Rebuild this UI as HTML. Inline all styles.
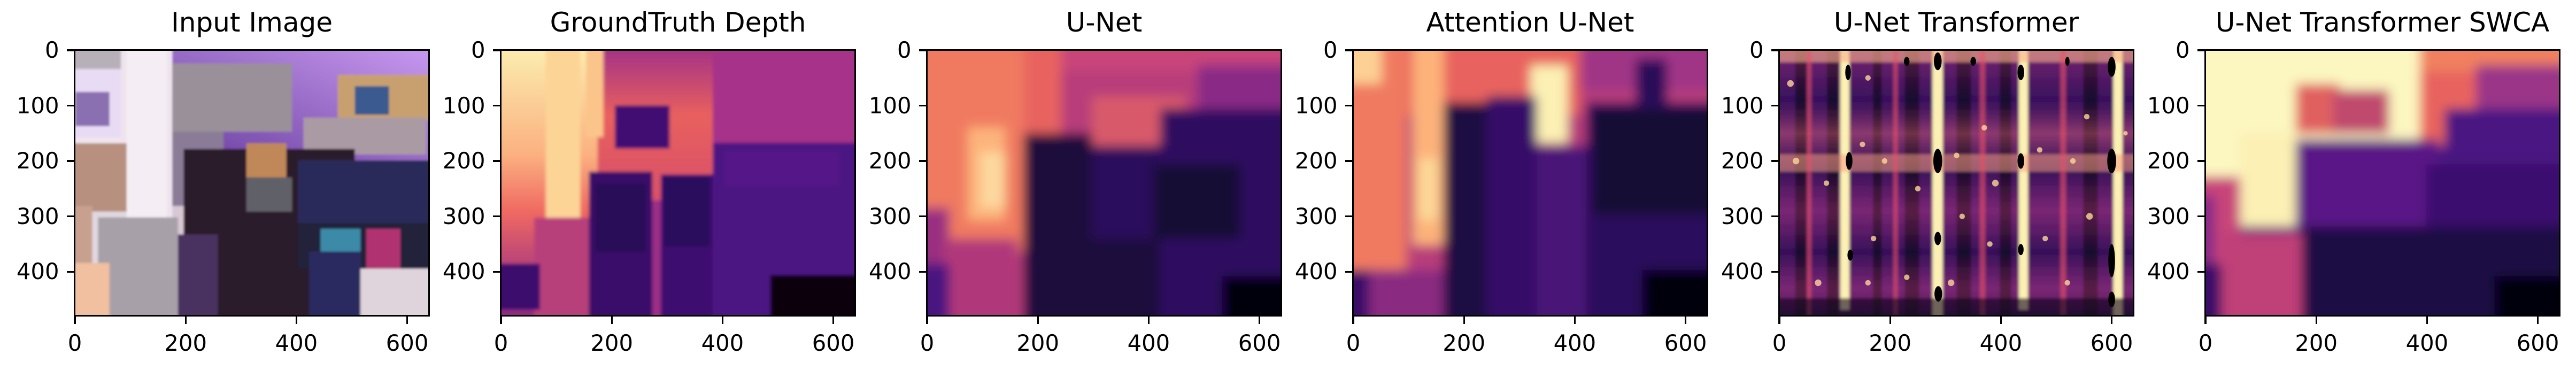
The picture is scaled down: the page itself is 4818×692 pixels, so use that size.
<!DOCTYPE html>
<html><head><meta charset="utf-8">
<style>
html,body{margin:0;padding:0;background:#fff;}
#fig{position:relative;width:4818px;height:692px;overflow:hidden;background:#fff;font-family:"DejaVu Sans","Liberation Sans",sans-serif;color:#000;}
.ax{position:absolute;top:93.5px;width:663px;height:497px;box-sizing:border-box;}
.ax svg.img{position:absolute;left:0;top:0;width:663px;height:497px;display:block;overflow:hidden;}
.frame{position:absolute;left:-1.6px;top:-1.6px;width:666.2px;height:500.2px;border:3.3px solid #000;box-sizing:border-box;}
.title{position:absolute;top:-82px;left:-200px;width:1063px;text-align:center;font-size:50px;line-height:60px;white-space:nowrap;}
.tx{position:absolute;width:3.3px;height:14.6px;background:#000;top:498px;margin-left:-1.65px;}
.ty{position:absolute;height:3.3px;width:14.6px;background:#000;left:-14.6px;margin-top:-1.65px;}
.lx{position:absolute;top:524px;width:160px;margin-left:-80px;text-align:center;font-size:41.7px;line-height:48px;}
.ly{position:absolute;right:692px;font-size:41.7px;line-height:48px;margin-top:-24px;text-align:right;white-space:nowrap;}
</style></head>
<body>
<div id="fig">
<div id="svgs" style="display:none">
<svg id="s0" viewBox="0 0 640 480" preserveAspectRatio="none">
<defs><linearGradient id="wall" x1="0" y1="1" x2="1" y2="0"><stop offset="0" stop-color="#6a3fa0"/><stop offset="1" stop-color="#c99af0"/></linearGradient>
<filter id="b1"><feGaussianBlur stdDeviation="2"/></filter></defs>
<g transform="translate(320 240) scale(1.03) translate(-320 -240)"><g filter="url(#b1)">
<rect width="640" height="480" fill="#d8c8d4"/>
<rect x="0" y="0" width="180" height="480" fill="#efe4ee"/>
<rect x="0" y="0" width="90" height="40" fill="#b8b0b8"/>
<rect x="0" y="40" width="90" height="120" fill="#e8dcf4"/>
<rect x="10" y="80" width="60" height="60" fill="#8a70b0"/>
<rect x="100" y="0" width="70" height="300" fill="#f4eef4"/>
<rect x="0" y="170" width="100" height="120" fill="#b89080"/>
<rect x="0" y="280" width="40" height="110" fill="#c8a090"/>
<rect x="40" y="290" width="60" height="100" fill="#e0d8e0"/>
<rect x="50" y="300" width="140" height="180" fill="#a8a0a8"/>
<rect x="0" y="380" width="70" height="100" fill="#f0c0a0"/>
<rect x="180" y="0" width="460" height="200" fill="url(#wall)"/>
<rect x="180" y="30" width="210" height="120" fill="#9a909a"/>
<rect x="180" y="150" width="90" height="130" fill="#8a7c96"/>
<rect x="470" y="50" width="170" height="80" fill="#c8a070"/>
<rect x="500" y="70" width="60" height="50" fill="#3a5a90"/>
<rect x="410" y="125" width="215" height="65" fill="#aa9aa4"/>
<rect x="200" y="180" width="300" height="300" fill="#2a1a2c"/>
<rect x="310" y="170" width="70" height="60" fill="#c08858"/>
<rect x="310" y="230" width="80" height="60" fill="#606068"/>
<rect x="400" y="200" width="240" height="120" fill="#2a2a5a"/>
<rect x="400" y="310" width="240" height="80" fill="#20203a"/>
<rect x="440" y="320" width="70" height="80" fill="#3a8aa8"/>
<rect x="520" y="320" width="60" height="70" fill="#b03070"/>
<rect x="190" y="330" width="70" height="150" fill="#4a3060"/>
<rect x="420" y="360" width="90" height="120" fill="#2a2a60"/>
<rect x="510" y="390" width="130" height="90" fill="#e0d4dc"/>
</g></g></svg>

<svg id="s1" viewBox="0 0 640 480" preserveAspectRatio="none">
<defs><linearGradient id="gl" x1="0" y1="0" x2="0" y2="1"><stop offset="0" stop-color="#fcefb0"/><stop offset="0.4" stop-color="#fbb080"/><stop offset="0.6" stop-color="#f06a62"/><stop offset="0.85" stop-color="#a8387e"/><stop offset="1" stop-color="#8c2a80"/></linearGradient>
<linearGradient id="go" x1="0" y1="0" x2="0" y2="1"><stop offset="0" stop-color="#a03088"/><stop offset="0.45" stop-color="#e8605e"/><stop offset="1" stop-color="#d8506a"/></linearGradient>
<filter id="b2"><feGaussianBlur stdDeviation="3"/></filter></defs>
<g transform="translate(320 240) scale(1.04) translate(-320 -240)"><g filter="url(#b2)">
<rect width="640" height="480" fill="#9c2e86"/>
<rect x="380" y="0" width="260" height="200" fill="#a6308a"/>
<rect x="180" y="0" width="200" height="270" fill="url(#go)"/>
<rect x="0" y="0" width="180" height="480" fill="url(#gl)"/>
<rect x="90" y="0" width="60" height="320" fill="#fcd496"/>
<rect x="70" y="300" width="110" height="180" fill="#b8407a"/>
<rect x="160" y="0" width="30" height="160" fill="#fbc48a"/>
<rect x="210" y="105" width="95" height="75" fill="#420f72"/>
<rect x="165" y="220" width="110" height="260" fill="#3a0f6a"/>
<rect x="175" y="240" width="90" height="120" fill="#2c0b58"/>
<rect x="290" y="225" width="90" height="255" fill="#3c0f70"/>
<rect x="295" y="230" width="80" height="120" fill="#2c0b5c"/>
<rect x="380" y="170" width="260" height="310" fill="#4c1282"/>
<rect x="400" y="185" width="200" height="60" fill="#541488"/>
<rect x="480" y="400" width="160" height="80" fill="#070311"/>
<rect x="0" y="380" width="80" height="80" fill="#3c0f6e"/>
</g></g></svg>

<svg id="s2" viewBox="0 0 640 480" preserveAspectRatio="none">
<defs><filter id="b3"><feGaussianBlur stdDeviation="9"/></filter></defs>
<g transform="translate(320 240) scale(1.12) translate(-320 -240)"><g filter="url(#b3)">
<rect width="640" height="480" fill="#b83c7a"/>
<rect x="0" y="0" width="250" height="200" fill="#e8645e"/>
<rect x="250" y="0" width="390" height="60" fill="#c8447a"/>
<rect x="0" y="0" width="190" height="350" fill="#f07a60"/>
<rect x="100" y="150" width="60" height="150" fill="#fdb47c"/>
<rect x="120" y="190" width="40" height="90" fill="#fcd89e"/>
<rect x="0" y="280" width="70" height="200" fill="#9a2e80"/>
<rect x="60" y="330" width="120" height="150" fill="#b0387a"/>
<rect x="300" y="100" width="150" height="80" fill="#d85a6a"/>
<rect x="470" y="50" width="170" height="90" fill="#8a2a86"/>
<rect x="190" y="160" width="110" height="320" fill="#1c0c3c"/>
<rect x="300" y="180" width="110" height="300" fill="#2c0f5c"/>
<rect x="300" y="330" width="200" height="150" fill="#1a0b3c"/>
<rect x="410" y="120" width="230" height="360" fill="#2e1060"/>
<rect x="400" y="210" width="140" height="120" fill="#170a36"/>
<rect x="510" y="390" width="130" height="90" fill="#05020e"/>
<rect x="0" y="370" width="70" height="110" fill="#4a1480"/>
</g></g></svg>

<svg id="s3" viewBox="0 0 640 480" preserveAspectRatio="none">
<defs><filter id="b4"><feGaussianBlur stdDeviation="9"/></filter></defs>
<g transform="translate(320 240) scale(1.12) translate(-320 -240)"><g filter="url(#b4)">
<rect width="640" height="480" fill="#b83c7a"/>
<rect x="0" y="0" width="400" height="130" fill="#e8645e"/>
<rect x="400" y="0" width="240" height="90" fill="#a03486"/>
<rect x="0" y="0" width="120" height="380" fill="#f07a60"/>
<rect x="0" y="0" width="80" height="80" fill="#fdd094"/>
<rect x="130" y="0" width="50" height="340" fill="#fdb27a"/>
<rect x="140" y="200" width="30" height="100" fill="#fcd898"/>
<rect x="320" y="50" width="60" height="125" fill="#fcf0b4"/>
<rect x="0" y="380" width="60" height="100" fill="#3a0f68"/>
<rect x="60" y="380" width="120" height="100" fill="#8a2a80"/>
<rect x="180" y="110" width="70" height="370" fill="#1e0c42"/>
<rect x="250" y="100" width="80" height="380" fill="#341068"/>
<rect x="330" y="180" width="80" height="300" fill="#4a1278"/>
<rect x="490" y="40" width="50" height="100" fill="#2a0c58"/>
<rect x="410" y="110" width="230" height="370" fill="#2c0f5c"/>
<rect x="420" y="120" width="200" height="170" fill="#170a34"/>
<rect x="500" y="380" width="140" height="100" fill="#05020e"/>
</g></g></svg>

<svg id="s4" viewBox="0 0 640 480" preserveAspectRatio="none">
<defs>
<linearGradient id="hb" x1="0" y1="0" x2="0" y2="1">
<stop offset="0" stop-color="#e8506a" stop-opacity="0.35"/><stop offset="0.2" stop-color="#10061e" stop-opacity="0.3"/><stop offset="0.32" stop-color="#f07060" stop-opacity="0.4"/><stop offset="0.45" stop-color="#10061e" stop-opacity="0.35"/><stop offset="0.6" stop-color="#e8506a" stop-opacity="0.3"/><stop offset="0.75" stop-color="#10061e" stop-opacity="0.35"/><stop offset="0.88" stop-color="#e8506a" stop-opacity="0.3"/><stop offset="1" stop-color="#10061e" stop-opacity="0.5"/></linearGradient>
<filter id="b5"><feGaussianBlur stdDeviation="2.5"/></filter></defs>
<rect width="640" height="480" fill="#3a0f6c"/>
<g transform="translate(320 240) scale(1.04) translate(-320 -240)"><g filter="url(#b5)">
<rect x="0" y="0" width="640" height="480" fill="#4a1478"/>
<rect x="40" y="0" width="20" height="480" fill="#1a0836"/>
<rect x="95" y="0" width="20" height="480" fill="#1a0836"/>
<rect x="175" y="0" width="15" height="480" fill="#1a0836"/>
<rect x="230" y="0" width="25" height="480" fill="#1a0836"/>
<rect x="320" y="0" width="25" height="480" fill="#1a0836"/>
<rect x="395" y="0" width="20" height="480" fill="#1a0836"/>
<rect x="540" y="0" width="25" height="480" fill="#1a0836"/>
<rect x="0" y="0" width="640" height="480" fill="url(#hb)"/>
<rect x="118" y="0" width="16" height="460" fill="#fcf0b4"/>
<rect x="278" y="0" width="18" height="480" fill="#fcf0b4"/>
<rect x="428" y="0" width="16" height="460" fill="#fcf0b4"/>
<rect x="592" y="0" width="16" height="480" fill="#fcf0b4"/>
<rect x="0" y="0" width="640" height="30" fill="#f8b088" opacity="0.6"/>
<rect x="0" y="190" width="640" height="30" fill="#f8a080" opacity="0.55"/>
<rect x="60" y="0" width="8" height="470" fill="#e8506a" opacity="0.6"/>
<rect x="210" y="0" width="8" height="470" fill="#e8506a" opacity="0.6"/>
<rect x="360" y="0" width="10" height="470" fill="#e8506a" opacity="0.6"/>
<rect x="500" y="0" width="10" height="470" fill="#e8506a" opacity="0.6"/>
<rect x="0" y="440" width="640" height="40" fill="#10061e" opacity="0.6"/>
</g></g>
<g fill="#fcd898" opacity="0.8">
<circle cx="20" cy="60" r="6"/><circle cx="30" cy="200" r="6"/><circle cx="85" cy="240" r="5"/><circle cx="70" cy="420" r="6"/>
<circle cx="160" cy="50" r="5"/><circle cx="150" cy="170" r="5"/><circle cx="190" cy="200" r="5"/><circle cx="170" cy="340" r="5"/><circle cx="160" cy="420" r="5"/>
<circle cx="250" cy="250" r="5"/><circle cx="230" cy="410" r="5"/><circle cx="320" cy="190" r="5"/><circle cx="330" cy="300" r="5"/><circle cx="310" cy="420" r="6"/>
<circle cx="370" cy="140" r="5"/><circle cx="390" cy="240" r="6"/><circle cx="380" cy="350" r="5"/><circle cx="470" cy="180" r="5"/><circle cx="480" cy="340" r="5"/>
<circle cx="530" cy="200" r="5"/><circle cx="555" cy="120" r="5"/><circle cx="560" cy="300" r="6"/><circle cx="520" cy="420" r="5"/><circle cx="625" cy="150" r="4"/>
</g>
<g fill="#000">
<ellipse cx="124" cy="40" rx="5" ry="14"/><ellipse cx="126" cy="200" rx="6" ry="16"/><ellipse cx="128" cy="370" rx="5" ry="10"/>
<ellipse cx="286" cy="20" rx="7" ry="16"/><ellipse cx="286" cy="200" rx="8" ry="22"/><ellipse cx="286" cy="340" rx="6" ry="12"/><ellipse cx="287" cy="440" rx="7" ry="14"/>
<ellipse cx="436" cy="40" rx="6" ry="14"/><ellipse cx="436" cy="200" rx="6" ry="14"/><ellipse cx="436" cy="360" rx="5" ry="10"/>
<ellipse cx="600" cy="30" rx="7" ry="18"/><ellipse cx="600" cy="200" rx="8" ry="22"/><ellipse cx="600" cy="380" rx="6" ry="30"/><ellipse cx="600" cy="450" rx="6" ry="14"/>
<ellipse cx="230" cy="20" rx="5" ry="8"/><ellipse cx="350" cy="20" rx="5" ry="8"/><ellipse cx="520" cy="20" rx="4" ry="8"/>
</g></svg>

<svg id="s5" viewBox="0 0 640 480" preserveAspectRatio="none">
<defs><filter id="b6"><feGaussianBlur stdDeviation="9"/></filter></defs>
<g transform="translate(320 240) scale(1.12) translate(-320 -240)"><g filter="url(#b6)">
<rect width="640" height="480" fill="#4c1280"/>
<rect x="0" y="0" width="640" height="180" fill="#e8645e"/>
<rect x="380" y="0" width="260" height="60" fill="#f0805e"/>
<rect x="0" y="0" width="380" height="170" fill="#fcf6c0"/>
<rect x="0" y="0" width="170" height="230" fill="#fcf6c0"/>
<rect x="90" y="160" width="90" height="150" fill="#fcf0b4"/>
<rect x="0" y="230" width="90" height="160" fill="#c8447a"/>
<rect x="0" y="260" width="50" height="130" fill="#8a2a86"/>
<rect x="60" y="320" width="130" height="160" fill="#c04078"/>
<rect x="180" y="80" width="70" height="80" fill="#e06060"/>
<rect x="240" y="90" width="90" height="70" fill="#c04a6e"/>
<rect x="180" y="170" width="230" height="140" fill="#5a1686"/>
<rect x="420" y="120" width="220" height="80" fill="#4a1282"/>
<rect x="470" y="50" width="170" height="70" fill="#9a3488"/>
<rect x="190" y="310" width="450" height="170" fill="#1e0c44"/>
<rect x="390" y="210" width="250" height="100" fill="#3a0f6e"/>
<rect x="500" y="390" width="140" height="90" fill="#05020e"/>
<rect x="0" y="370" width="60" height="110" fill="#3a0f68"/>
</g></g></svg>
</div>
</div>
<script>
const titles = ["Input Image","GroundTruth Depth","U-Net","Attention U-Net","U-Net Transformer","U-Net Transformer SWCA"];
const xTicks = [0,200,400,600];
const yTicks = [0,100,200,300,400];
const imgW = 640, imgH = 480;
const fig = document.getElementById('fig');
const AXW = 663, AXH = 497, LEFT0 = 139.5, STEP = 797;
function sx(v){ return (v + 0.5) / imgW * AXW; }
function sy(v){ return (v + 0.5) / imgH * AXH; }
titles.forEach((t, i) => {
  const ax = document.createElement('div');
  ax.className = 'ax';
  ax.style.left = (LEFT0 + i * STEP) + 'px';
  
  
  const svg = document.getElementById('s' + i);
  svg.setAttribute('class', 'img');
  
  
  ax.appendChild(svg);
  const fr = document.createElement('div');
  fr.className = 'frame';
  
  
  ax.appendChild(fr);
  const ti = document.createElement('div');
  ti.className = 'title';
  ti.textContent = t;
  
  
  ax.appendChild(ti);
  xTicks.forEach(v => {
    const tk = document.createElement('div');
    tk.className = 'tx';
    tk.style.left = sx(v) + 'px';
    
    
    ax.appendChild(tk);
    const lb = document.createElement('div');
    lb.className = 'lx';
    lb.style.left = sx(v) + 'px';
    lb.textContent = v;
    
    
    ax.appendChild(lb);
  });
  yTicks.forEach(v => {
    const tk = document.createElement('div');
    tk.className = 'ty';
    tk.style.top = sy(v) + 'px';
    
    
    ax.appendChild(tk);
    const lb = document.createElement('div');
    lb.className = 'ly';
    lb.style.top = sy(v) + 'px';
    lb.textContent = v;
    
    
    ax.appendChild(lb);
  });
  fig.appendChild(ax);
});
</script>
</body></html>
